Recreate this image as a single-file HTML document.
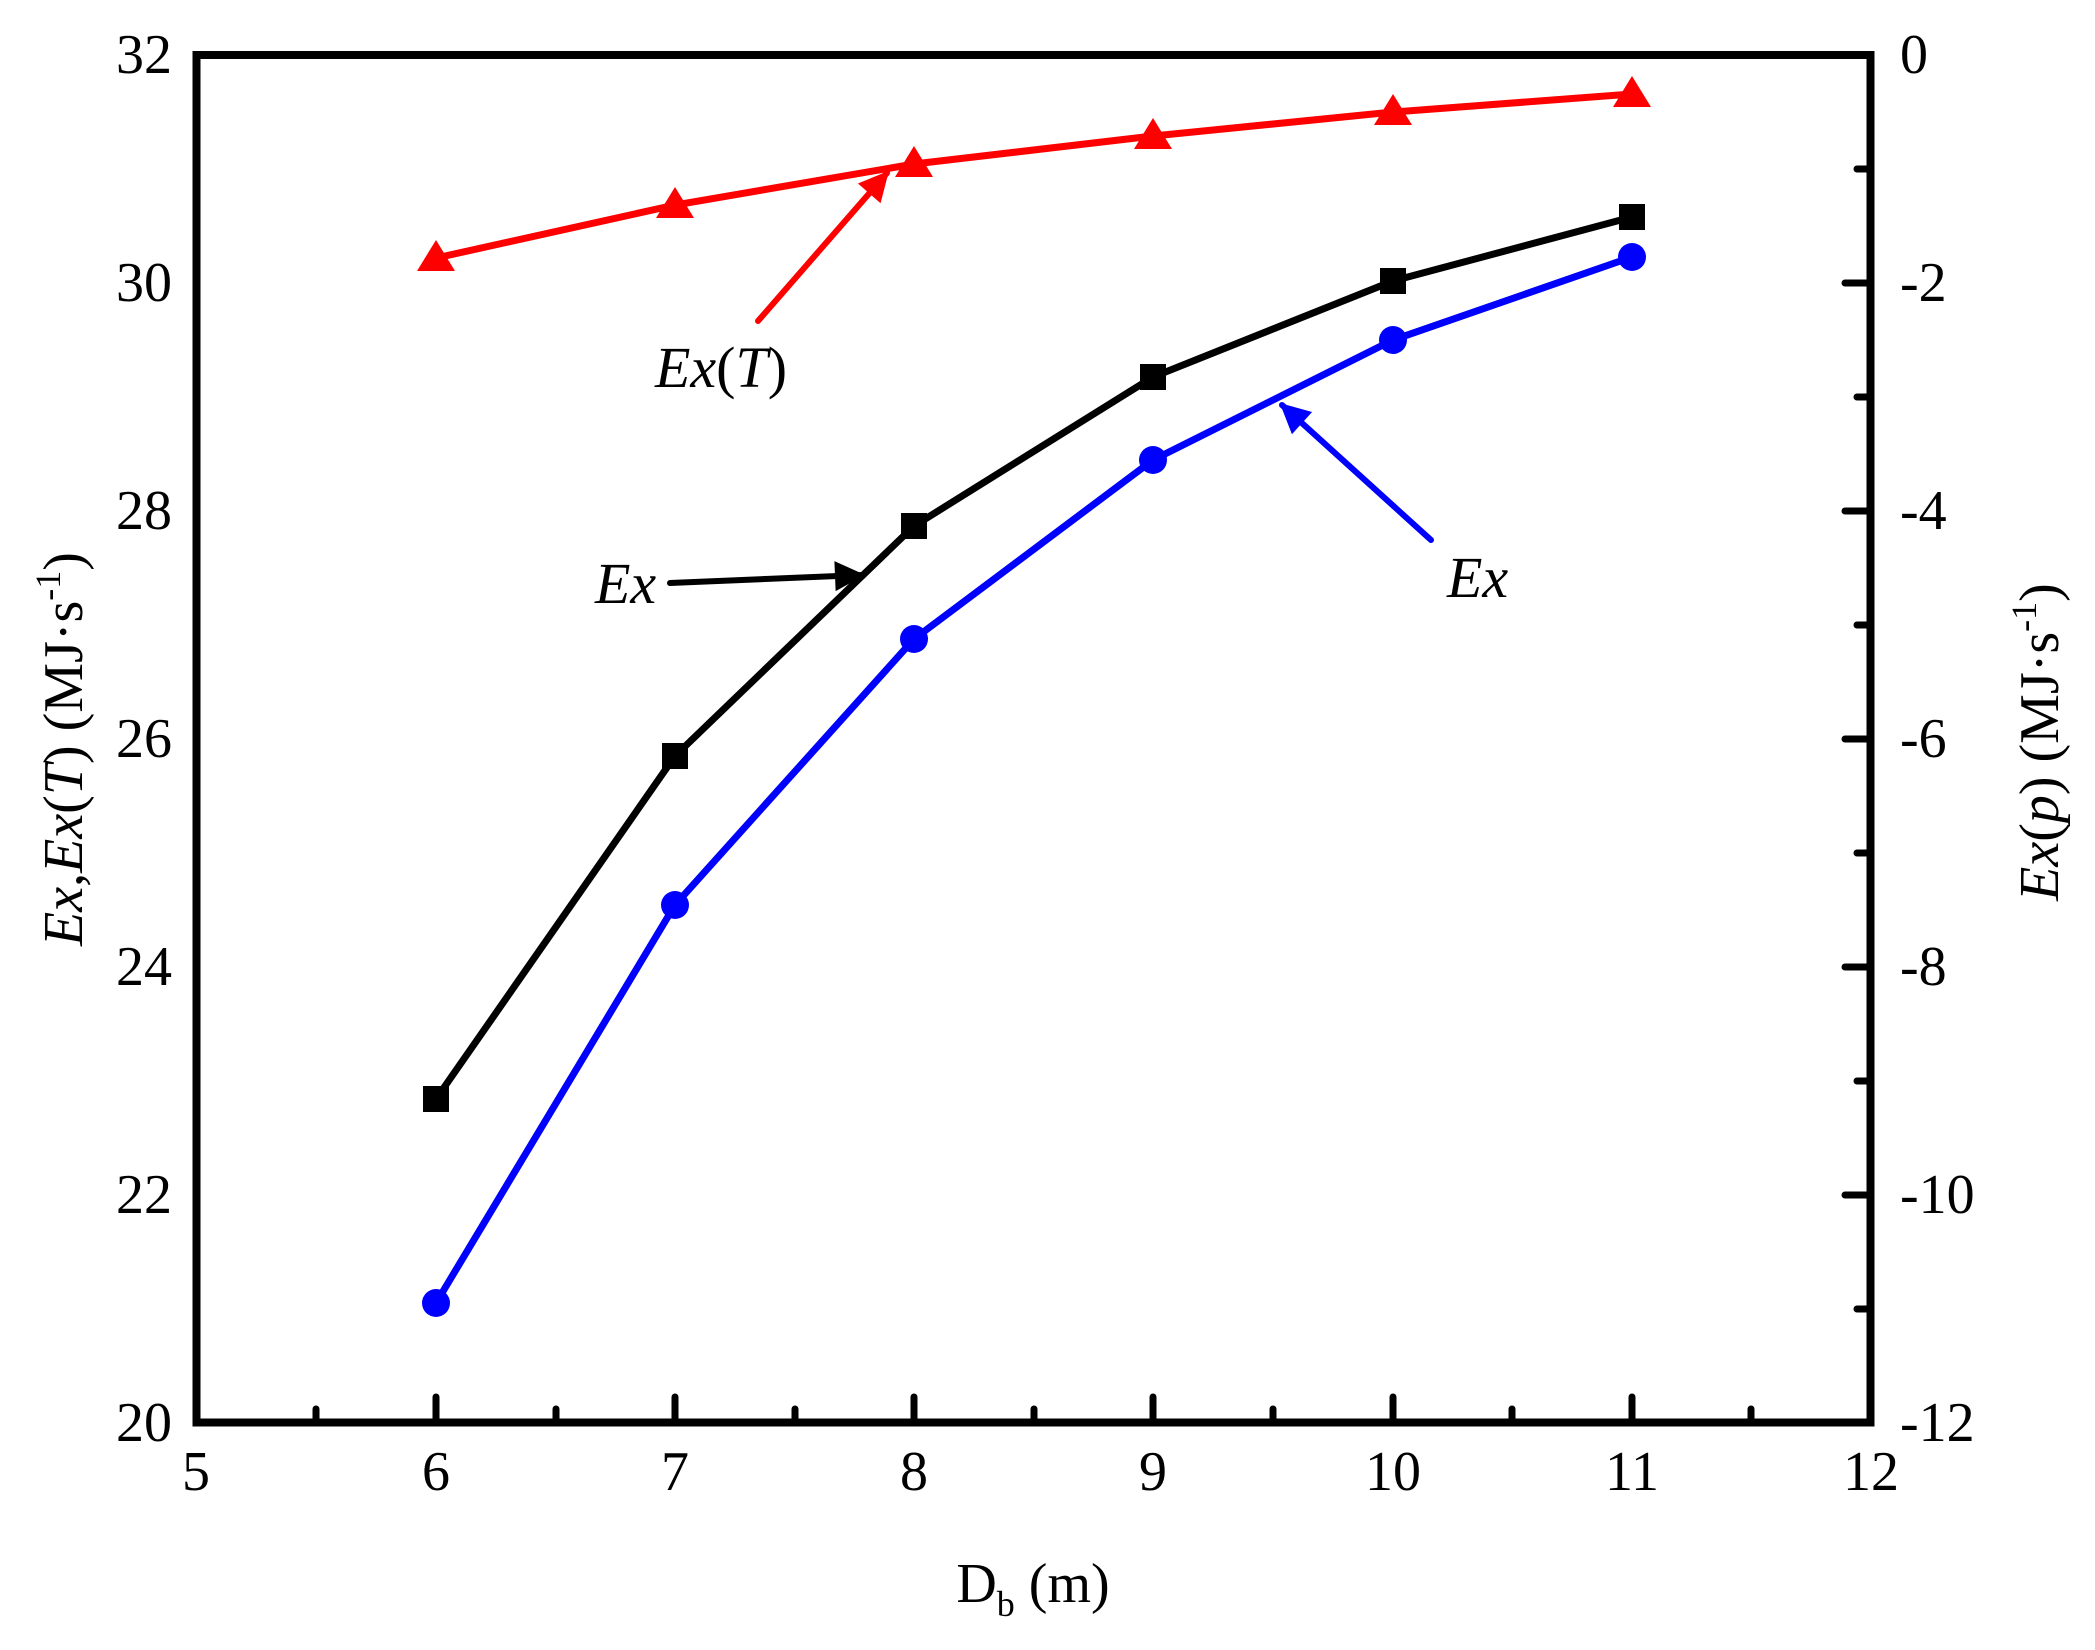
<!DOCTYPE html>
<html><head><meta charset="utf-8"><style>html,body{margin:0;padding:0;background:#fff}svg{display:block}</style></head>
<body>
<svg width="2095" height="1650" viewBox="0 0 2095 1650" xmlns="http://www.w3.org/2000/svg" font-family="Liberation Serif, serif">
<defs>
<marker id="ak" viewBox="0 0 10 10" refX="9" refY="5" markerWidth="7" markerHeight="5" orient="auto" markerUnits="strokeWidth"><path d="M0,0 L10,5 L0,10 z" fill="#000"/></marker>
<marker id="aR" viewBox="0 0 10 10" refX="9" refY="5" markerWidth="7" markerHeight="5" orient="auto" markerUnits="strokeWidth"><path d="M0,0 L10,5 L0,10 z" fill="#f00"/></marker>
<marker id="aB" viewBox="0 0 10 10" refX="9" refY="5" markerWidth="7" markerHeight="5" orient="auto" markerUnits="strokeWidth"><path d="M0,0 L10,5 L0,10 z" fill="#00f"/></marker>
</defs>
<g stroke="#000" stroke-width="7" stroke-linecap="round">
<line x1="436" y1="1422" x2="436" y2="1397"/><line x1="675" y1="1422" x2="675" y2="1397"/><line x1="914" y1="1422" x2="914" y2="1397"/><line x1="1153" y1="1422" x2="1153" y2="1397"/><line x1="1393" y1="1422" x2="1393" y2="1397"/><line x1="1632" y1="1422" x2="1632" y2="1397"/>
<line x1="316" y1="1422" x2="316" y2="1409"/><line x1="556" y1="1422" x2="556" y2="1409"/><line x1="795" y1="1422" x2="795" y2="1409"/><line x1="1034" y1="1422" x2="1034" y2="1409"/><line x1="1273" y1="1422" x2="1273" y2="1409"/><line x1="1512" y1="1422" x2="1512" y2="1409"/><line x1="1751" y1="1422" x2="1751" y2="1409"/>
<line x1="1870" y1="283" x2="1845" y2="283"/><line x1="1870" y1="511" x2="1845" y2="511"/><line x1="1870" y1="739" x2="1845" y2="739"/><line x1="1870" y1="967" x2="1845" y2="967"/><line x1="1870" y1="1195" x2="1845" y2="1195"/>
<line x1="1870" y1="169" x2="1857" y2="169"/><line x1="1870" y1="397" x2="1857" y2="397"/><line x1="1870" y1="625" x2="1857" y2="625"/><line x1="1870" y1="853" x2="1857" y2="853"/><line x1="1870" y1="1081" x2="1857" y2="1081"/><line x1="1870" y1="1309" x2="1857" y2="1309"/>
</g>
<rect x="196.5" y="55" width="1674" height="1367.5" fill="none" stroke="#000" stroke-width="8"/>
<g font-size="56" text-anchor="middle">
<text x="196" y="1490">5</text><text x="436" y="1490">6</text><text x="675" y="1490">7</text><text x="914" y="1490">8</text><text x="1153" y="1490">9</text><text x="1393" y="1490">10</text><text x="1632" y="1490">11</text><text x="1871" y="1490">12</text>
</g>
<g font-size="56" text-anchor="end">
<text x="172" y="1441">20</text><text x="172" y="1213">22</text><text x="172" y="985">24</text><text x="172" y="757">26</text><text x="172" y="529">28</text><text x="172" y="301">30</text><text x="172" y="73">32</text>
</g>
<g font-size="56" text-anchor="start">
<text x="1900" y="73">0</text><text x="1900" y="301">-2</text><text x="1900" y="529">-4</text><text x="1900" y="757">-6</text><text x="1900" y="985">-8</text><text x="1900" y="1213">-10</text><text x="1900" y="1441">-12</text>
</g>
<text x="1033" y="1602" font-size="56" text-anchor="middle">D<tspan font-size="36" dy="14">b</tspan><tspan dy="-14"> (m)</tspan></text>
<text transform="translate(82,749) rotate(-90)" font-size="56" text-anchor="middle"><tspan font-style="italic">Ex</tspan>,<tspan font-style="italic">Ex</tspan>(<tspan font-style="italic">T</tspan>) (MJ·s<tspan font-size="36" dy="-22">-1</tspan><tspan dy="22">)</tspan></text>
<text transform="translate(2058,742) rotate(-90)" font-size="56" text-anchor="middle"><tspan font-style="italic">Ex</tspan>(<tspan font-style="italic">p</tspan>) (MJ·s<tspan font-size="36" dy="-22">-1</tspan><tspan dy="22">)</tspan></text>
<polyline fill="none" stroke="#f00" stroke-width="7" points="436,258 675,205 914,164 1153,136 1393,112 1632,94"/>
<g fill="#f00">
<path d="M436,240 l19,31 h-38z"/><path d="M675,187 l19,31 h-38z"/><path d="M914,146 l19,31 h-38z"/><path d="M1153,118 l19,31 h-38z"/><path d="M1393,94 l19,31 h-38z"/><path d="M1632,76 l19,31 h-38z"/>
</g>
<polyline fill="none" stroke="#000" stroke-width="7" points="436,1099 675,756 914,526 1153,377 1393,281 1632,217"/>
<g fill="#000">
<rect x="423" y="1086" width="26" height="26"/><rect x="662" y="743" width="26" height="26"/><rect x="901" y="513" width="26" height="26"/><rect x="1140" y="364" width="26" height="26"/><rect x="1380" y="268" width="26" height="26"/><rect x="1619" y="204" width="26" height="26"/>
</g>
<polyline fill="none" stroke="#00f" stroke-width="7" points="436,1303 675,905 914,639 1153,460 1393,340 1632,257"/>
<g fill="#00f">
<circle cx="436" cy="1303" r="14"/><circle cx="675" cy="905" r="14"/><circle cx="914" cy="639" r="14"/><circle cx="1153" cy="460" r="14"/><circle cx="1393" cy="340" r="14"/><circle cx="1632" cy="257" r="14"/>
</g>
<line x1="758" y1="321" x2="887" y2="173" stroke="#f00" stroke-width="6" stroke-linecap="round" marker-end="url(#aR)"/>
<line x1="670" y1="583" x2="862" y2="575" stroke="#000" stroke-width="6" stroke-linecap="round" marker-end="url(#ak)"/>
<line x1="1431" y1="540" x2="1282" y2="405" stroke="#00f" stroke-width="6" stroke-linecap="round" marker-end="url(#aB)"/>
<text x="655" y="387" font-size="58"><tspan font-style="italic">Ex</tspan>(<tspan font-style="italic">T</tspan>)</text>
<text x="595" y="603" font-size="58" font-style="italic">Ex</text>
<text x="1447" y="597" font-size="58" font-style="italic">Ex</text>
</svg>
</body></html>
